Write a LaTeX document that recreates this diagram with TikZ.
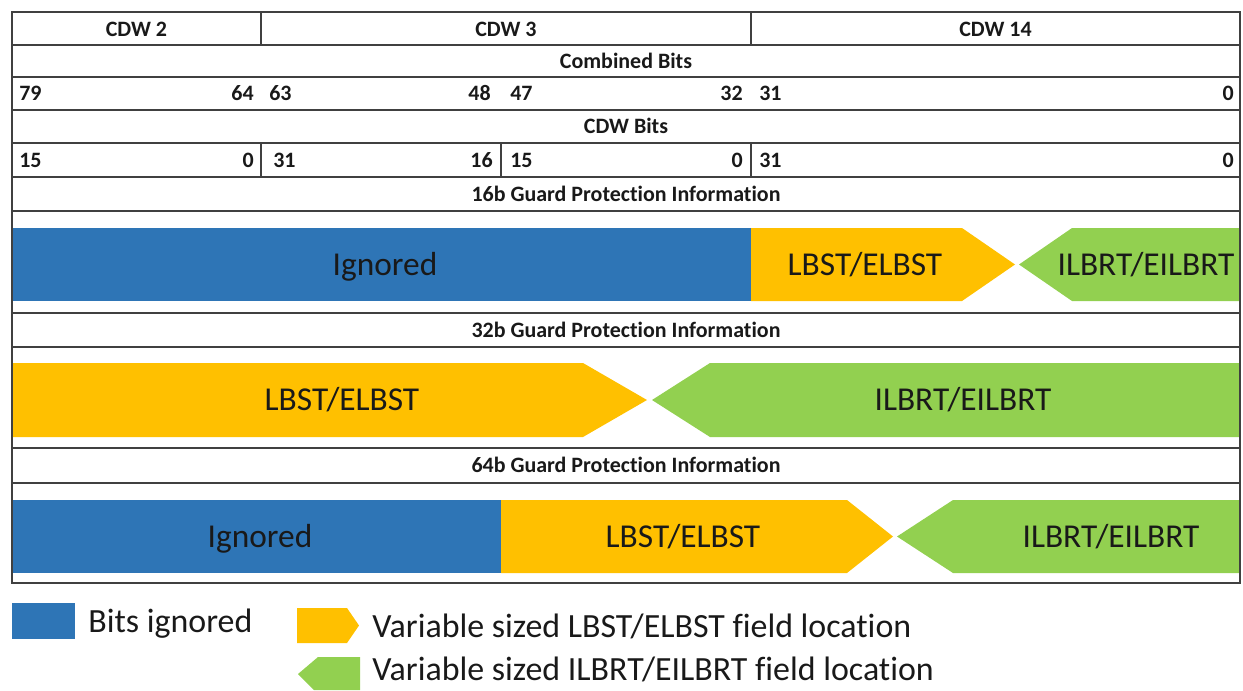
\documentclass[tikz,border=0pt]{standalone}
\usepackage{fontspec}
\setmainfont{Carlito}[Ligatures=NoCommon]
\definecolor{ignblue}{HTML}{2E75B6}
\definecolor{lbstyellow}{HTML}{FFC000}
\definecolor{ilbrtgreen}{HTML}{92D050}
\definecolor{gridgray}{HTML}{404040}
\tikzset{
grid/.style={draw=gridgray, line width=0.9pt},
head/.style={font=\fontsize{12.5}{15}\selectfont\bfseries, text=black!90, inner sep=0pt, anchor=base},
bitl/.style={head, anchor=base west},
bitr/.style={head, anchor=base east},
field/.style={font=\fontsize{19}{23}\selectfont, text=black!90, inner sep=0pt, anchor=base},
keytext/.style={field, font=\fontsize{19.3}{23}\selectfont, anchor=base west},
}

\begin{document}
\begin{tikzpicture}[x=0.02cm, y=-0.02cm]
        \useasboundingbox (0,0) rectangle (1243,690);

        % coloured fields, 16b / 32b / 64b
        \fill[ignblue] (12,228) rectangle (751,301);
        \fill[lbstyellow] (751,228) -- (962,228) -- (1015,264.5) -- (962,301) -- (751,301) -- cycle;
        \fill[ilbrtgreen] (1240,228) -- (1072,228) -- (1019,264.5) -- (1072,301) -- (1240,301) -- cycle;
        \fill[lbstyellow] (12,363) -- (583,363) -- (647,400) -- (583,437) -- (12,437) -- cycle;
        \fill[ilbrtgreen] (1240,363) -- (710,363) -- (652,400) -- (710,437) -- (1240,437) -- cycle;
        \fill[ignblue] (12,500) rectangle (501,573);
        \fill[lbstyellow] (501,500) -- (847,500) -- (893,536.5) -- (847,573) -- (501,573) -- cycle;
        \fill[ilbrtgreen] (1240,500) -- (953,500) -- (897,536.5) -- (953,573) -- (1240,573) -- cycle;

        % table grid
        \draw[grid] (12,12) rectangle (1240,583);
        \draw[grid] (12,45) -- (1240,45) (12,77) -- (1240,77) (12,110) -- (1240,110)
            (12,143) -- (1240,143) (12,177) -- (1240,177) (12,211) -- (1240,211)
            (12,313) -- (1240,313) (12,347) -- (1240,347) (12,448) -- (1240,448)
            (12,483) -- (1240,483);
        \draw[grid] (261,12) -- (261,45) (751,12) -- (751,45)
            (261,143) -- (261,177) (501,143) -- (501,177) (751,143) -- (751,177);

        \node[head] (cdw2) at (136.5,36) {CDW 2};
        \node[head] (cdw3) at (506,36) {CDW 3};
        \node[head] (cdw14) at (995.5,36) {CDW 14};
        \node[head] (comb) at (626,68) {Combined Bits};
        \node[bitl] (c79) at (19,100.5) {79};
        \node[bitr] (c64) at (254,100.5) {64};
        \node[bitl] (c63) at (269,100.5) {63};
        \node[bitr] (c48) at (491,100.5) {48};
        \node[bitl] (c47) at (510,100.5) {47};
        \node[bitr] (c32) at (743,100.5) {32};
        \node[bitl] (c31) at (759,100.5) {31};
        \node[bitr] (c0) at (1234,100.5) {0};
        \node[head] (cdwb) at (626,133.5) {CDW Bits};
        \node[bitl] (w2hi) at (19,167) {15};
        \node[bitr] (w2lo) at (254,167) {0};
        \node[bitl] (w3hi) at (273,167) {31};
        \node[bitr] (w3mid) at (493,167) {16};
        \node[bitl] (w3md) at (510,167) {15};
        \node[bitr] (w3lo) at (743,167) {0};
        \node[bitl] (w14hi) at (759,167) {31};
        \node[bitr] (w14lo) at (1234,167) {0};
        \node[head] (g16) at (626,201) {16b Guard Protection Information};
        \node[head] (g32) at (626,337) {32b Guard Protection Information};
        \node[head] (g64) at (626,472.5) {64b Guard Protection Information};

        \node[field] (ign16) at (385,275.3) {Ignored};
        \node[field] (lb16) at (865,275.3) {LBST/ELBST};
        \node[field] (il16) at (1146,275.3) {ILBRT/EILBRT};
        \node[field] (lb32) at (342,410.8) {LBST/ELBST};
        \node[field] (il32) at (963,410.8) {ILBRT/EILBRT};
        \node[field] (ign64) at (260,547.3) {Ignored};
        \node[field] (lb64) at (683,547.3) {LBST/ELBST};
        \node[field] (il64) at (1111,547.3) {ILBRT/EILBRT};

        % legend
        \fill[ignblue] (12,603) rectangle (75,639);
        \fill[lbstyellow] (297,608) -- (347,608) -- (359,625.5) -- (347,643) -- (297,643) -- cycle;
        \fill[ilbrtgreen] (360,657) -- (318,657) -- (298,674) -- (314,690) -- (360,690) -- cycle;
        \node[keytext] (kign) at (88,632) {Bits ignored};
        \node[keytext] (klb) at (372,637.5) {Variable sized LBST/ELBST field location};
        \node[keytext] (kil) at (372,680.5) {Variable sized ILBRT/EILBRT field location};
    \end{tikzpicture}
\end{document}
